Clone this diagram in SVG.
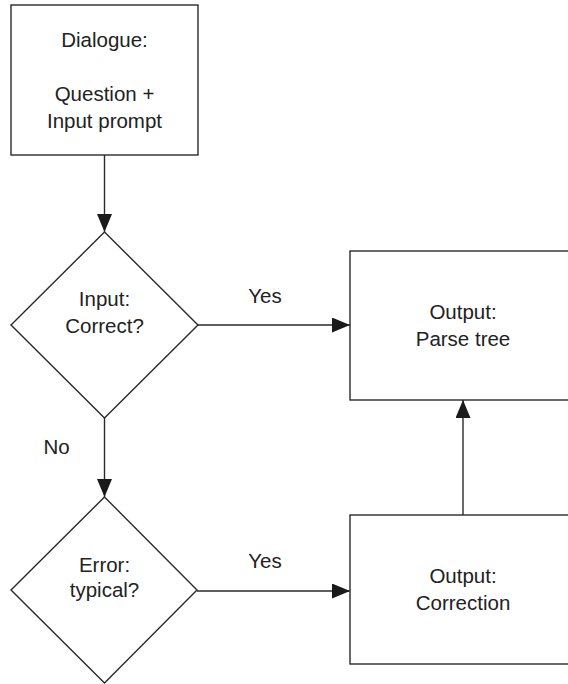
<svg xmlns="http://www.w3.org/2000/svg" width="568" height="684" viewBox="0 0 568 684">
<defs>
<style>
.shape{fill:#fff;stroke:#2a2a2a;stroke-width:1.4}
.line{fill:none;stroke:#2a2a2a;stroke-width:1.4}
text{font-family:"Liberation Sans",Arial,sans-serif;font-size:20.5px;fill:#222;text-anchor:middle}
</style>
<marker id="arr" markerUnits="userSpaceOnUse" markerWidth="18" markerHeight="15" refX="18" refY="7.5" orient="auto">
<path d="M0,0 L18,7.5 L0,15 z" fill="#1a1a1a"/>
</marker>
</defs>
<rect width="568" height="684" fill="#fff"/>
<g id="connectors">
<line class="line" x1="104.5" y1="155" x2="104.5" y2="232" marker-end="url(#arr)"/>
<line class="line" x1="198" y1="325" x2="350" y2="325" marker-end="url(#arr)"/>
<line class="line" x1="104.5" y1="418" x2="104.5" y2="497" marker-end="url(#arr)"/>
<line class="line" x1="197" y1="591" x2="350" y2="591" marker-end="url(#arr)"/>
<line class="line" x1="463" y1="515" x2="463" y2="400" marker-end="url(#arr)"/>
<text x="265" y="303">Yes</text>
<text x="56.5" y="454">No</text>
<text x="265" y="568">Yes</text>
</g>
<g id="dialogue">
<rect class="shape" x="11" y="5" width="187" height="150"/>
<text x="104.5" y="47">Dialogue:</text>
<text x="104.5" y="101">Question +</text>
<text x="104.5" y="128">Input prompt</text>
</g>
<g id="input-correct">
<polygon class="shape" points="104.5,232 198,325 104.5,418 11,325"/>
<text x="104.5" y="306">Input:</text>
<text x="104.5" y="333">Correct?</text>
</g>
<g id="parse-tree">
<rect class="shape" x="350" y="251" width="230" height="149"/>
<text x="463" y="319">Output:</text>
<text x="463" y="346">Parse tree</text>
</g>
<g id="error-typical">
<polygon class="shape" points="104.5,497 197,590 104.5,683 11,590"/>
<text x="104.5" y="572">Error:</text>
<text x="104.5" y="597">typical?</text>
</g>
<g id="correction">
<rect class="shape" x="350" y="515" width="230" height="149"/>
<text x="463" y="583">Output:</text>
<text x="463" y="610">Correction</text>
</g>
</svg>
